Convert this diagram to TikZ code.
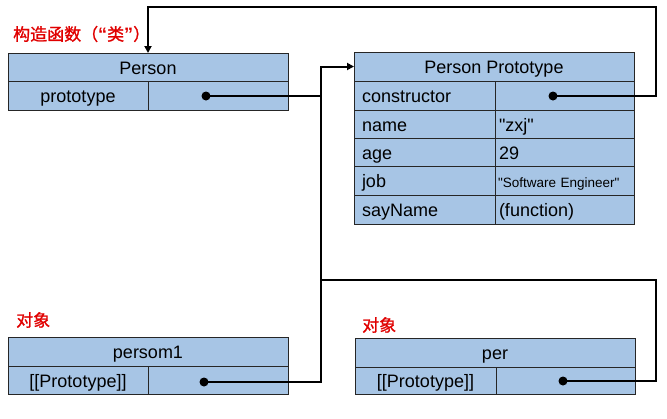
\documentclass[tikz,border=0pt]{standalone}
\usepackage{fontspec}
\setmainfont{Liberation Sans}
\newfontfamily\plainarial{Liberation Sans}
\newfontfamily\cjk{Noto Sans CJK SC}[FakeBold=1.2]
\usetikzlibrary{arrows.meta}
\definecolor{cellblue}{HTML}{A7C5E5}
\definecolor{labelred}{HTML}{E00000}
\newcommand{\dq}{{\plainarial\symbol{34}}}
\begin{document}
\begin{tikzpicture}[x=1pt,y=-1pt,
  cell/.style={draw=black!85, fill=cellblue, line width=0.9pt, inner sep=0pt, outer sep=0pt,
    anchor=north west, font=\fontsize{18}{20}\selectfont, text height=15pt, text depth=1pt},
  keycell/.style={cell, inner xsep=8pt, text width=#1, align=left},
  valcell/.style={cell, inner xsep=4pt, text width=#1, align=left},
  conn/.style={line width=2pt},
  arr/.style={conn, -{Triangle[length=7pt,width=7pt]}},
  dot/.style={fill=black},
  lbl/.style={text=labelred, font=\cjk\fontsize{17}{19}\selectfont, anchor=west, inner sep=0pt}
]
\useasboundingbox (0,0) rectangle (667,418);

% Person (constructor)
\node[lbl] (lc) at (13,34) {构造函数（{\plainarial\bfseries\fontsize{18}{20}\selectfont “}类{\plainarial\bfseries\fontsize{18}{20}\selectfont ”}）};
\node[cell, minimum width=280pt, minimum height=28pt] (ph) at (8,53) {Person};
\node[cell, minimum width=140pt, minimum height=29pt] (pk) at (8,81) {prototype};
\node[cell, minimum width=140pt, minimum height=29pt] (pv) at (148,81) {};

% Person Prototype
\node[cell, minimum width=280pt, minimum height=29pt] (pph) at (354,52) {Person Prototype};
\node[keycell=125pt, minimum height=29pt] (k1) at (354,81) {constructor};
\node[cell, minimum width=139pt, minimum height=29pt] (v1) at (495,81) {};
\node[keycell=125pt, minimum height=28pt] (k2) at (354,110) {name};
\node[valcell=131pt, minimum height=28pt] (v2) at (495,110) {\dq zxj\dq};
\node[keycell=125pt, minimum height=28pt] (k3) at (354,138) {age};
\node[valcell=131pt, minimum height=28pt] (v3) at (495,138) {29};
\node[keycell=125pt, minimum height=29pt] (k4) at (354,166) {job};
\node[cell, inner xsep=3pt, text width=133pt, align=left, minimum height=29pt,
      font=\fontsize{13.5}{16}\selectfont] (v4) at (495,166) {\dq Software Engineer\dq};
\node[keycell=125pt, minimum height=29pt] (k5) at (354,195) {sayName};
\node[valcell=131pt, minimum height=29pt] (v5) at (495,195) {(function)};

% persom1
\node[lbl] (lo1) at (16,320) {对象};
\node[cell, minimum width=280pt, minimum height=29pt] (mh) at (8,337) {persom1};
\node[cell, minimum width=140pt, minimum height=28pt] (mk) at (8,366) {[[Prototype]]};
\node[cell, minimum width=140pt, minimum height=28pt] (mv) at (148,366) {};

% per
\node[lbl] (lo2) at (362,325) {对象};
\node[cell, minimum width=280pt, minimum height=29pt] (rh) at (355,338) {per};
\node[cell, minimum width=141pt, minimum height=27pt] (rk) at (355,367) {[[Prototype]]};
\node[cell, minimum width=139pt, minimum height=27pt] (rv) at (496,367) {};

% dots
\coordinate (pdot) at (206,96);
\coordinate (cdot) at (553,96);
\coordinate (mdot) at (204,382);
\coordinate (rdot) at (563,381);
\coordinate (trunk) at (321,96);
\coordinate (topr) at (656,7);
\coordinate (join) at (321,280);
\coordinate (perr) at (656,280);

% connectors
\draw[arr] (pdot) -- (trunk) |- (pph.west);
\draw[arr] (cdot) -| (topr) -| (ph.north);
\draw[conn] (mdot) -| (trunk);
\draw[conn] (rdot) -| (perr) -- (join);

\fill[dot] (pdot) circle (4.5pt);
\fill[dot] (cdot) circle (4.5pt);
\fill[dot] (mdot) circle (4.5pt);
\fill[dot] (rdot) circle (4.5pt);
\end{tikzpicture}
\end{document}
